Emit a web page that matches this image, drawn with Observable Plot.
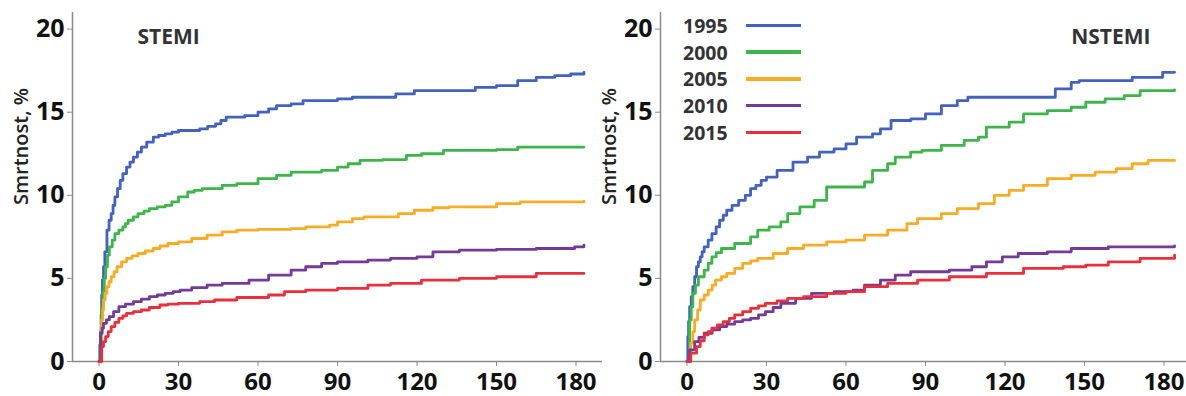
<!DOCTYPE html>
<html>
<head>
<meta charset="utf-8">
<script src="https://cdn.jsdelivr.net/npm/d3@7"></script>
<script src="https://cdn.jsdelivr.net/npm/@observablehq/plot@0.6"></script>
<style>
  html, body { margin: 0; padding: 0; background: #fff; }
  #wrap { position: relative; width: 1186px; height: 396px; overflow: hidden; font-family: "Open Sans", sans-serif; }
  #wrap svg { position: absolute; top: 0; background: transparent; }
  #legend { position: absolute; left: 683px; top: 12px; }
  .row { display: flex; align-items: center; height: 26.75px; }
  .row span.t { font-weight: 700; font-size: 19.5px; color: #333; width: 63px; }
  .row span.l { display: inline-block; width: 55px; height: 3.5px; }
</style>
</head>
<body>
<div id="wrap"></div>
<script>
// ---- categories / labels ----
const years = ["1995", "2000", "2005", "2010", "2015"];
const colors = ["#4262be", "#3db54a", "#f8ab25", "#733a98", "#e8303c"];
const xTicks = [0, 30, 60, 90, 120, 150, 180];
const yTicks = [0, 5, 10, 15, 20];
const yLabel = "Smrtnost, %";

// ---- STEMI series: [day, mortality %] ----
const stemi1995 = [[0,0],[0.3,1.0],[0.6,1.7],[0.8,2.8],[1,4.0],[1.3,4.9],[1.7,5.7],[2.2,6.6],[3,7.9],[3.8,8.5],[4.6,8.9],[5.3,9.4],[6,9.9],[7,10.4],[8,10.9],[9,11.3],[10.4,11.7],[11.7,12.0],[13,12.3],[14.5,12.6],[16,12.9],[18,13.2],[20.5,13.5],[22.5,13.6],[25,13.7],[27.5,13.8],[30,13.9],[38,14.0],[41,14.15],[44,14.3],[46,14.5],[48,14.7],[55,14.8],[60,15.0],[64,15.2],[67,15.4],[72.5,15.5],[77,15.7],[90,15.8],[95.6,15.9],[112,16.1],[119,16.3],[142,16.5],[150,16.6],[158,16.9],[165,17.1],[172,17.2],[178,17.3],[183,17.4]];
const stemi2000 = [[0,0],[0.5,1.8],[1,3.3],[1.5,4.2],[2,5.0],[2.5,5.7],[3.2,6.4],[3.9,6.9],[5,7.3],[6,7.7],[7.5,7.9],[9,8.1],[10,8.3],[11,8.5],[13,8.7],[14.7,8.9],[17,9.05],[19,9.2],[22,9.3],[25,9.4],[27.5,9.6],[30,9.9],[33.5,10.2],[36,10.3],[39,10.4],[46.5,10.6],[52,10.7],[60,11.0],[67,11.2],[72.5,11.4],[84,11.5],[90,11.7],[94,11.9],[98.5,12.1],[107,12.15],[116,12.4],[121.7,12.5],[130,12.7],[150,12.75],[158,12.9],[183,12.9]];
const stemi2005 = [[0,0],[1,2.5],[1.4,3.1],[1.7,3.7],[2.3,4.1],[3,4.5],[3.8,4.8],[4.6,5.1],[5.7,5.4],[6.8,5.7],[8.5,6.0],[10.4,6.2],[12.5,6.35],[14.7,6.5],[17.5,6.65],[20.5,6.8],[23,6.95],[26,7.1],[30,7.2],[35,7.4],[40.8,7.6],[46.5,7.8],[52,7.9],[60,7.95],[72.5,8.0],[78,8.1],[87,8.2],[90,8.4],[95.6,8.6],[100,8.7],[113,8.9],[119,9.1],[126,9.25],[132,9.3],[150,9.5],[159,9.6],[183,9.65]];
const stemi2010 = [[0,0],[0.6,1.7],[1.2,2.0],[1.7,2.3],[2.8,2.5],[3.9,2.7],[5.5,3.0],[7.5,3.3],[10,3.45],[13,3.6],[16,3.75],[19,3.9],[22,4.0],[25,4.1],[28,4.2],[30.6,4.3],[35,4.45],[40.8,4.6],[46.5,4.7],[56.6,4.9],[64,5.2],[72.5,5.5],[78,5.7],[84,5.9],[90,6.0],[101.5,6.1],[110,6.2],[120,6.3],[126,6.6],[136,6.7],[150,6.75],[165,6.8],[179.5,6.9],[183,7.0]];
const stemi2015 = [[0,0],[1,0.9],[1.7,1.2],[2.5,1.5],[3.5,1.8],[4.6,2.1],[6,2.35],[7.5,2.6],[9,2.75],[10.4,2.9],[13,3.0],[16,3.1],[19,3.25],[23,3.4],[26,3.45],[30,3.5],[38,3.6],[43.6,3.7],[52,3.85],[64,4.0],[70,4.2],[78,4.3],[90,4.4],[101.5,4.6],[110,4.7],[121.7,4.9],[136,5.0],[150,5.1],[165,5.3],[183,5.3]];

// ---- NSTEMI series: [day, mortality %] ----
const nstemi1995 = [[0,0],[0.3,1.5],[0.6,2.4],[1,3.3],[1.6,3.9],[2.2,4.5],[2.9,5.1],[3.6,5.7],[4.3,6.0],[5,6.3],[5.7,6.6],[6.5,6.9],[8,7.3],[9.4,7.7],[11,8.1],[12.3,8.5],[13.7,8.8],[15,9.1],[17,9.4],[19.5,9.7],[22,10.0],[24,10.4],[26,10.6],[28,10.9],[30,11.1],[34,11.5],[40,12.0],[45.5,12.3],[50,12.6],[55.5,12.8],[60,13.1],[64,13.5],[70,13.7],[73,14.0],[77,14.5],[84.5,14.6],[90,14.9],[96,15.4],[102,15.7],[106,15.9],[139,16.4],[145,16.8],[148,16.9],[168,17.1],[179.5,17.4],[184,17.4]];
const nstemi2000 = [[0,0],[1,2.5],[1.6,3.3],[2.2,4.1],[3.2,4.6],[4.3,5.1],[6.5,5.5],[8,5.9],[9.4,6.3],[11,6.55],[13,6.8],[18,7.1],[24,7.5],[26.7,7.9],[31,8.1],[35.4,8.4],[38,8.9],[42.6,9.3],[48,9.7],[52.7,10.5],[67,10.8],[70,11.5],[75.7,11.9],[78.6,12.3],[84.4,12.6],[88.7,12.7],[96,13.0],[104.6,13.3],[110,13.5],[113,14.1],[121.6,14.4],[127,14.9],[136,15.1],[145,15.3],[150.5,15.6],[157.8,15.8],[165,16.0],[171,16.3],[184,16.35]];
const nstemi2005 = [[0,0],[1.4,1.1],[2.2,1.8],[2.9,2.5],[4,3.1],[5,3.7],[6.5,4.0],[8,4.3],[9.5,4.6],[10.8,4.9],[13,5.1],[15,5.3],[18,5.6],[21,5.9],[24,6.05],[26.7,6.2],[32.5,6.5],[38,6.8],[44,7.0],[52.7,7.2],[60,7.3],[67,7.6],[75.7,7.9],[83,8.3],[87,8.6],[96,8.9],[102,9.2],[110,9.5],[116,10.0],[121.6,10.3],[127,10.6],[136,11.0],[145,11.2],[154,11.4],[162,11.6],[168,11.9],[174,12.1],[184,12.1]];
const nstemi2010 = [[0,0],[1,0.7],[2.9,1.2],[4.5,1.45],[6.5,1.7],[9.5,1.9],[12.3,2.1],[15,2.25],[18,2.4],[21,2.5],[24,2.6],[27,2.8],[29.6,3.0],[32.5,3.25],[35.4,3.5],[41,3.8],[47,4.1],[55.6,4.2],[62.7,4.3],[67,4.6],[73,4.9],[78.6,5.2],[84.4,5.4],[99,5.5],[107.5,5.7],[113,6.0],[119,6.3],[125,6.5],[136,6.6],[145,6.8],[159,6.9],[184,6.95]];
const nstemi2015 = [[0,0],[1.4,0.5],[3.6,0.9],[5,1.25],[6.5,1.6],[8,1.8],[9.4,2.0],[11.5,2.2],[13.7,2.4],[16,2.6],[18,2.8],[21,3.0],[24,3.2],[27,3.35],[29.6,3.5],[34,3.65],[38,3.8],[44,3.9],[52.7,4.1],[60,4.2],[67,4.5],[75.7,4.7],[87,4.9],[99,5.1],[113,5.3],[127,5.6],[142,5.7],[150.5,5.8],[159,6.0],[171,6.2],[184,6.4]];

const toRows = (series) => series.flatMap((s, i) => s.map(([day, pct]) => ({day, pct, year: years[i]})));
const stemiRows = toRows([stemi1995, stemi2000, stemi2005, stemi2010, stemi2015]);
const nstemiRows = toRows([nstemi1995, nstemi2000, nstemi2005, nstemi2010, nstemi2015]);

function panel(rows, title, opts) {
  const titleMark = opts.titleRight
    ? Plot.text([title], {frameAnchor: "top-right", dx: opts.titleDx, dy: 17, textAnchor: "end", fontSize: 21, fontWeight: 700, fill: "#333"})
    : Plot.text([title], {frameAnchor: "top-left", dx: opts.titleDx, dy: 17, textAnchor: "start", fontSize: 21, fontWeight: 700, fill: "#333"});
  return Plot.plot({
    width: opts.width,
    height: 396,
    marginLeft: 72,
    marginRight: opts.marginRight,
    marginTop: 12,
    marginBottom: 35,
    style: {fontFamily: "'Open Sans', sans-serif", background: "transparent", overflow: "visible"},
    x: {domain: opts.xDomain, label: null},
    y: {domain: [0, 21], label: null},
    color: {domain: years, range: colors},
    marks: [
      Plot.ruleX([opts.xDomain[0]], {stroke: "#8a8a8a", strokeWidth: 1.5}),
      Plot.ruleY([0], {stroke: "#8a8a8a", strokeWidth: 1.5}),
      Plot.axisY({ticks: yTicks, tickSize: 5, tickPadding: 3, stroke: "#8a8a8a", fontSize: 25, fontWeight: 700, fill: "#111", label: null}),
      Plot.axisX({ticks: xTicks, tickSize: 5, tickPadding: 6, stroke: "#8a8a8a", fontSize: 24, fontWeight: 700, fill: "#111", label: null}),
      Plot.text([yLabel], {frameAnchor: "left", dx: -51, dy: 18, rotate: -90, fontSize: 20, fontWeight: 600, fill: "#222"}),
      titleMark,
      Plot.line(rows, {x: "day", y: "pct", z: "year", stroke: "year", curve: "step-after", strokeWidth: 2.8})
    ]
  });
}

const wrap = document.getElementById("wrap");
const left = panel(stemiRows, "STEMI", {width: 604, marginRight: 2, xDomain: [-10, 190], titleDx: 65});
left.style.left = "0px";
const right = panel(nstemiRows, "NSTEMI", {width: 598, marginRight: 0, xDomain: [-10, 188.5], titleDx: -36, titleRight: true});
right.style.left = "588px";
wrap.appendChild(left);
wrap.appendChild(right);

// legend (inside NSTEMI panel)
const legend = document.createElement("div");
legend.id = "legend";
years.forEach((y, i) => {
  const row = document.createElement("div");
  row.className = "row";
  row.innerHTML = `<span class="t">${y}</span><span class="l" style="background:${colors[i]}"></span>`;
  legend.appendChild(row);
});
wrap.appendChild(legend);
</script>
</body>
</html>
